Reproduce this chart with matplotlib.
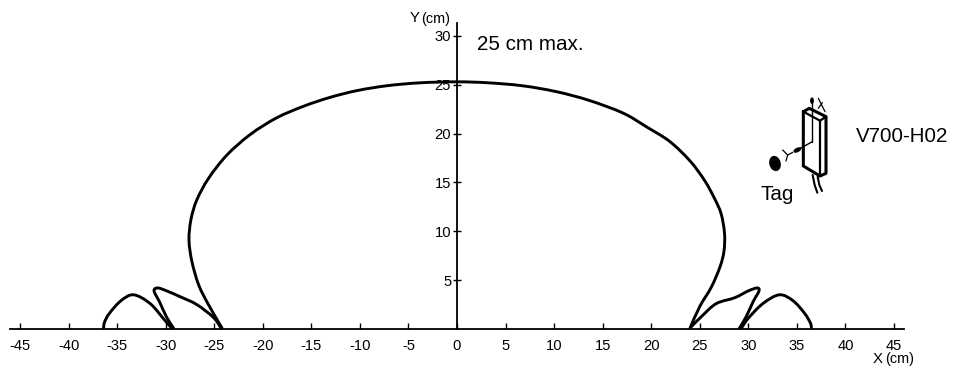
import numpy as np
import matplotlib
matplotlib.use("Agg")
import matplotlib.pyplot as plt
from matplotlib.path import Path
from matplotlib.patches import PathPatch, Ellipse
from matplotlib.transforms import Affine2D

plt.rcParams['font.family'] = ['Liberation Sans', 'DejaVu Sans']
plt.rcParams['axes.unicode_minus'] = False

W, H = 954, 366
X0_PX, Y0_PX = 457.0, 329.0
PX_X, PX_Y = 9.71, 9.77

x_ticks = [-45, -40, -35, -30, -25, -20, -15, -10, -5, 0, 5, 10, 15, 20, 25, 30, 35, 40, 45]
y_ticks = [5, 10, 15, 20, 25, 30]

main_x = [-24.2, -25.6, -26.6, -27.3, -27.6, -27.4, -26.8, -25.6, -23.7, -21.3, -18.6, -15.8, -13.1,
          -10.3, -7.2, -3.8, 0.0, 3.2, 6.7, 10.2, 13.6, 17.1, 19.5, 21.9, 24.0, 25.5, 26.5, 27.2, 27.55,
          27.5, 27.1, 26.2, 25.0, 24.0]
main_y = [0.1, 2.5, 4.5, 6.9, 9.1, 11.2, 13.2, 15.4, 17.8, 19.9, 21.6, 22.8, 23.7,
          24.4, 24.9, 25.2, 25.3, 25.2, 24.9, 24.3, 23.4, 22.1, 20.7, 19.2, 17.2, 15.2, 13.4, 11.8, 9.8,
          8.0, 6.4, 4.3, 2.3, 0.1]

lobe1_left_x = [-24.3, -25.1, -26.8, -28.5, -29.9, -30.8, -31.2, -30.6, -29.9, -29.2]
lobe1_left_y = [0.1, 1.2, 2.5, 3.3, 3.9, 4.2, 3.9, 2.7, 1.2, 0.1]
lobe2_left_x = [-29.4, -30.1, -31.6, -33.3, -34.6, -35.8, -36.3, -36.4]
lobe2_left_y = [0.1, 0.9, 2.6, 3.5, 2.9, 1.6, 0.7, 0.1]
lobe1_right_x = [24.1, 25.2, 26.7, 28.6, 30.0, 30.9, 31.1, 30.5, 29.8, 29.1]
lobe1_right_y = [0.2, 1.3, 2.6, 3.2, 3.9, 4.2, 3.9, 2.8, 1.3, 0.1]
lobe2_right_x = [29.3, 30.0, 31.5, 33.2, 34.6, 35.8, 36.4, 36.5]
lobe2_right_y = [0.1, 1.1, 2.6, 3.5, 2.9, 1.6, 0.6, 0.1]

fig = plt.figure(figsize=(W / 100, H / 100), dpi=100)
ax = fig.add_axes([0, 0, 1, 1])
ax.set_xlim(-X0_PX / PX_X, (W - X0_PX) / PX_X)
ax.set_ylim(-(H - Y0_PX) / PX_Y, Y0_PX / PX_Y)
ax.patch.set_visible(False)

for s in ('top', 'right'):
    ax.spines[s].set_visible(False)
ax.spines['left'].set_position(('data', 0))
ax.spines['bottom'].set_position(('data', 0))
ax.spines['left'].set_bounds(0, (Y0_PX - 23) / PX_Y)
ax.spines['bottom'].set_bounds((10 - X0_PX) / PX_X, (904 - X0_PX) / PX_X)
ax.spines['left'].set_linewidth(1.3)
ax.spines['bottom'].set_linewidth(1.3)

ax.set_xticks(x_ticks)
ax.set_yticks(y_ticks)
ax.tick_params(axis='x', direction='in', length=4.3, width=1.0, pad=7, labelsize=10.6)
ax.tick_params(axis='y', direction='inout', length=5.5, width=1.0, pad=1.5, labelsize=10.6)


def smooth(xs, ys):
    p = np.column_stack([xs, ys])
    verts = [p[0]]
    codes = [Path.MOVETO]
    for i in range(len(p) - 1):
        a = p[max(i - 1, 0)]
        b = p[i]
        c = p[i + 1]
        d = p[min(i + 2, len(p) - 1)]
        verts += [b + (c - a) / 6, c - (d - b) / 6, c]
        codes += [Path.CURVE4] * 3
    return Path(verts, codes)


for xs, ys in [(main_x, main_y), (lobe1_left_x, lobe1_left_y), (lobe2_left_x, lobe2_left_y),
               (lobe1_right_x, lobe1_right_y), (lobe2_right_x, lobe2_right_y)]:
    ax.add_patch(PathPatch(smooth(xs, ys), fill=False, edgecolor='black', lw=2.1,
                           capstyle='round', joinstyle='round', zorder=3))


def pxt(x, y):
    return x / W, 1 - y / H


opts = dict(transform=ax.transAxes, color='black')
ax.text(*pxt(477, 44), '25 cm max.', fontsize=14.9, ha='left', va='center', **opts)
ax.text(*pxt(856, 136), 'V700-H02', fontsize=14.8, ha='left', va='center', **opts)
ax.text(*pxt(761, 195), 'Tag', fontsize=14.9, ha='left', va='center', **opts)
ax.text(*pxt(410, 18), 'Y', fontsize=10.8, ha='left', va='center', **opts)
ax.text(*pxt(421.5, 18.5), '(cm)', fontsize=10.4, ha='left', va='center', **opts)
ax.text(*pxt(873, 359), 'X', fontsize=10.8, ha='left', va='center', **opts)
ax.text(*pxt(885.5, 359.5), '(cm)', fontsize=10.4, ha='left', va='center', **opts)

sk = Affine2D().scale(1 / W, -1 / H).translate(0, 1) + ax.transAxes


def sketch(pts, lw=1.6):
    xy = np.array(pts, float)
    ax.plot(740 + xy[:, 0] / 3, 80 + xy[:, 1] / 3, transform=sk, color='black', lw=lw,
            solid_capstyle='round', solid_joinstyle='round', zorder=4)


sketch([(190, 95), (208, 85), (258, 110), (258, 280), (240, 288), (190, 258), (190, 95)], 2.2)
sketch([(190, 95), (240, 122), (258, 110)], 1.6)
sketch([(240, 122), (240, 288)], 1.6)
sketch([(217, 100), (217, 185)], 1.0)
sketch([(217, 185), (172, 210)], 1.0)
sketch([(216, 100), (216, 65)], 1.0)
sketch([(235, 55), (255, 95)], 0.9)
sketch([(235, 85), (247, 68)], 0.9)
sketch([(128, 210), (143, 225), (138, 243)], 0.9)
sketch([(143, 225), (158, 217)], 0.9)
sketch([(218, 285), (224, 315), (232, 338)], 1.5)
sketch([(233, 290), (238, 315), (246, 333)], 1.5)
ax.add_patch(Ellipse((740 + 216 / 3, 80 + 62 / 3), 2.4, 5, transform=sk, color='black', zorder=4))
ax.add_patch(Ellipse((740 + 172 / 3, 80 + 210 / 3), 7, 3, angle=-27, transform=sk, color='black', zorder=4))
ax.add_patch(Ellipse((775, 163.5), 10, 14, angle=-15, transform=sk, color='black', zorder=4))

fig.savefig('out.png', dpi=100)
